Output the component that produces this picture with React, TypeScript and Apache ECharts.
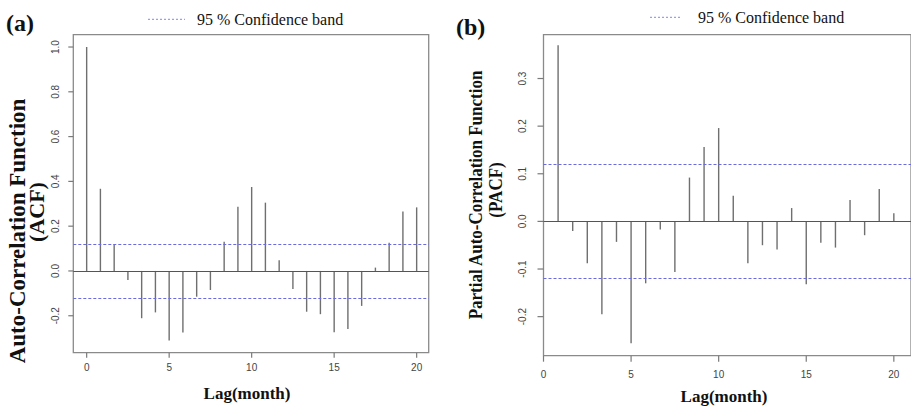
import React, { useEffect, useRef } from "react";
import * as echarts from "echarts";

// Lag positions (as drawn on the axis: 25 lags spanning 0..20)
const lags = [0, 0.833, 1.667, 2.5, 3.333, 4.167, 5, 5.833, 6.667, 7.5, 8.333, 9.167, 10, 10.833, 11.667, 12.5, 13.333, 14.167, 15, 15.833, 16.667, 17.5, 18.333, 19.167, 20];

// (a) ACF, lag index 0..24
const acfValues = [1.0, 0.367, 0.119, -0.04, -0.211, -0.185, -0.311, -0.275, -0.115, -0.085, 0.13, 0.287, 0.375, 0.305, 0.048, -0.08, -0.182, -0.193, -0.274, -0.259, -0.156, 0.015, 0.126, 0.265, 0.284];

// (b) PACF, lag index 1..24
const pacfValues = [0.37, -0.02, -0.088, -0.195, -0.043, -0.256, -0.13, -0.017, -0.106, 0.092, 0.156, 0.196, 0.054, -0.088, -0.05, -0.059, 0.028, -0.132, -0.045, -0.055, 0.045, -0.029, 0.068, 0.017];

const acfBand = 0.12;
const pacfBand = 0.121;

const xTicks = [0, 5, 10, 15, 20];
const acfYTicks = [-0.2, 0, 0.2, 0.4, 0.6, 0.8, 1.0];
const pacfYTicks = [-0.2, -0.1, 0, 0.1, 0.2, 0.3];

const legendLabel = "95 % Confidence band";
const acfTitle = "Auto-Correlation Function";
const acfSub = "(ACF)";
const pacfTitle = "Partial Auto-Correlation Function";
const pacfSub = "(PACF)";
const xTitle = "Lag(month)";

const SERIF = "'Liberation Serif', 'Times New Roman', serif";
const SANS = "'Liberation Sans', Arial, sans-serif";
const STEM = "#6f6f6f";
const FRAME = "#8a8a8a";
const BAND = "#6b6be0";
const TICK = "#7a7a7a";

function stemRender(params: any, api: any) {
  const x = api.value(0);
  const y = api.value(1);
  const p0 = api.coord([x, 0]);
  const p1 = api.coord([x, y]);
  return {
    type: "line",
    shape: { x1: p0[0], y1: p0[1], x2: p1[0], y2: p1[1] },
    style: { stroke: STEM, lineWidth: 1.4 },
  };
}

function xTickRender(len: number) {
  return (params: any, api: any) => {
    const cs = params.coordSys;
    const p = api.coord([api.value(0), 0]);
    const yb = cs.y + cs.height;
    return {
      type: "line",
      shape: { x1: p[0], y1: yb, x2: p[0], y2: yb + len },
      style: { stroke: TICK, lineWidth: 1.2 },
    };
  };
}

function yTickRender(len: number) {
  return (params: any, api: any) => {
    const cs = params.coordSys;
    const p = api.coord([0, api.value(0)]);
    return {
      type: "line",
      shape: { x1: cs.x, y1: p[1], x2: cs.x - len, y2: p[1] },
      style: { stroke: TICK, lineWidth: 1.2 },
    };
  };
}

function markLines(band: number) {
  return {
    silent: true,
    symbol: "none",
    label: { show: false },
    animation: false,
    data: [
      { yAxis: band, lineStyle: { color: BAND, type: [3, 2], width: 1.2 } },
      { yAxis: -band, lineStyle: { color: BAND, type: [3, 2], width: 1.2 } },
      { yAxis: 0, lineStyle: { color: "#555", type: "solid", width: 1.2 } },
    ],
  };
}

function xAxisCfg(gridIndex: number, min: number, max: number, margin: number) {
  return {
    type: "value",
    gridIndex,
    position: "bottom",
    min,
    max,
    axisLine: { show: false, onZero: false },
    splitLine: { show: false },
    axisTick: { show: false },
    axisLabel: {
      customValues: xTicks,
      margin,
      fontFamily: SANS,
      fontSize: 10,
      color: "#444",
      formatter: (v: number) => String(v),
    },
  };
}

function yAxisCfg(gridIndex: number, min: number, max: number, ticks: number[], margin: number) {
  return {
    type: "value",
    gridIndex,
    position: "left",
    min,
    max,
    axisLine: { show: false, onZero: false },
    splitLine: { show: false },
    axisTick: { show: false },
    axisLabel: {
      customValues: ticks,
      rotate: 90,
      margin,
      fontFamily: SANS,
      fontSize: 10,
      color: "#444",
      formatter: (v: number) => v.toFixed(1),
    },
  };
}

export default function App() {
  const ref = useRef<HTMLDivElement>(null);
  useEffect(() => {
    document.body.style.margin = "0";
    if (!ref.current) return;
    const chart = echarts.init(ref.current, null, { renderer: "svg" });
    const acfData = acfValues.map((v, i) => [lags[i], v]);
    const pacfData = pacfValues.map((v, i) => [lags[i + 1], v]);

    const rotText = (text: string, x: number, y: number, size: number, sy = 1) => ({
      type: "text",
      x,
      y,
      rotation: Math.PI / 2,
      scaleY: sy,
      style: {
        text,
        font: `bold ${size}px ${SERIF}`,
        fill: "#111",
        textAlign: "center",
        textVerticalAlign: "middle",
      },
    });

    const legend = (x1: number, x2: number, tx: number, y: number) => [
      {
        type: "line",
        shape: { x1, y1: y, x2, y2: y },
        style: { stroke: "#9c9cf0", lineWidth: 1.2, lineDash: [2, 2] },
      },
      {
        type: "text",
        x: tx,
        y,
        style: { text: legendLabel, font: `16px ${SERIF}`, fill: "#111", textAlign: "left", textVerticalAlign: "middle" },
      },
    ];

    const tickSeries = (idx: number, xs: number[], ys: number[], len: number) => [
      {
        type: "custom",
        name: "xticks" + idx,
        xAxisIndex: idx,
        yAxisIndex: idx,
        clip: false,
        silent: true,
        renderItem: xTickRender(len),
        encode: { x: 0 },
        data: xs.map((v) => [v]),
      },
      {
        type: "custom",
        name: "yticks" + idx,
        xAxisIndex: idx,
        yAxisIndex: idx,
        clip: false,
        silent: true,
        renderItem: yTickRender(len),
        encode: { y: 0 },
        data: ys.map((v) => [v]),
      },
    ];

    chart.setOption({
      animation: false,
      backgroundColor: "#fff",
      grid: [
        { left: 73.3, top: 34.7, width: 355.4, height: 318, show: true, borderColor: FRAME, borderWidth: 1.3, backgroundColor: "transparent" },
        { left: 543.5, top: 34.7, width: 372, height: 321, show: true, borderColor: FRAME, borderWidth: 1.3, backgroundColor: "transparent" },
      ],
      xAxis: [xAxisCfg(0, -0.81, 20.73, 10), xAxisCfg(1, 0, 20.98, 14)],
      yAxis: [
        yAxisCfg(0, -0.365, 1.055, acfYTicks, 13),
        yAxisCfg(1, -0.282, 0.392, pacfYTicks, 16),
      ],
      series: [
        {
          type: "custom",
          name: "ACF",
          xAxisIndex: 0,
          yAxisIndex: 0,
          renderItem: stemRender,
          encode: { x: 0, y: 1 },
          data: acfData,
          markLine: markLines(acfBand),
        },
        {
          type: "custom",
          name: "PACF",
          xAxisIndex: 1,
          yAxisIndex: 1,
          renderItem: stemRender,
          encode: { x: 0, y: 1 },
          data: pacfData,
          markLine: markLines(pacfBand),
        },
        ...tickSeries(0, xTicks, acfYTicks, 5),
        ...tickSeries(1, xTicks, pacfYTicks, 6),
      ],
      graphic: [
        { type: "text", x: 6, y: 22.5, style: { text: "(a)", font: `bold 24px ${SERIF}`, fill: "#111", textAlign: "left", textVerticalAlign: "middle" } },
        { type: "text", x: 456, y: 26.5, style: { text: "(b)", font: `bold 24px ${SERIF}`, fill: "#111", textAlign: "left", textVerticalAlign: "middle" } },
        ...legend(148, 185, 197, 19.3),
        ...legend(650, 680, 698, 17.3),
        rotText(acfTitle, 17, 231, 23),
        rotText(acfSub, 36, 212, 22),
        rotText(pacfTitle, 476, 195, 17, 1.15),
        rotText(pacfSub, 496, 190, 17, 1.15),
        { type: "text", x: 247, y: 393, style: { text: xTitle, font: `bold 17px ${SERIF}`, fill: "#111", textAlign: "center", textVerticalAlign: "middle" } },
        { type: "text", x: 724, y: 396, style: { text: xTitle, font: `bold 17px ${SERIF}`, fill: "#111", textAlign: "center", textVerticalAlign: "middle" } },
      ],
    });
    return () => chart.dispose();
  }, []);
  return (
    <div style={{ position: "absolute", left: 0, top: 0 }}>
      <div ref={ref} style={{ width: 911, height: 406 }} />
    </div>
  );
}
